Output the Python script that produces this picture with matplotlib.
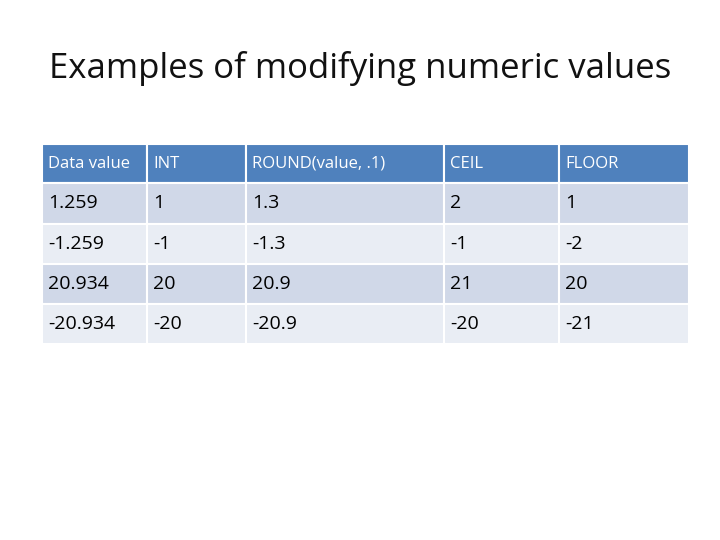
import matplotlib
matplotlib.use("Agg")
import matplotlib.pyplot as plt
from matplotlib.patches import Rectangle

title = "Examples of modifying numeric values"
headers = ["Data value", "INT", "ROUND(value, .1)", "CEIL", "FLOOR"]
data_values = ["1.259", "-1.259", "20.934", "-20.934"]
int_values = ["1", "-1", "20", "-20"]
round_values = ["1.3", "-1.3", "20.9", "-20.9"]
ceil_values = ["2", "-1", "21", "-20"]
floor_values = ["1", "-2", "20", "-21"]

col_edges = [42, 147, 246, 444, 559, 689]
row_edges = [144, 183, 224, 264, 304, 344]

fig = plt.figure(figsize=(7.2, 5.4), dpi=100)
ax = fig.add_axes([0, 0, 1, 1])
ax.set_xlim(0, 720)
ax.set_ylim(540, 0)
ax.axis("off")

ax.text(360, 68, title, ha="center", va="center", fontsize=25, family="Open Sans", color="#111111")

rows = [headers] + [list(r) for r in zip(data_values, int_values, round_values, ceil_values, floor_values)]
for i, row in enumerate(rows):
    y0, y1 = row_edges[i], row_edges[i + 1]
    if i == 0:
        fc, tc, fs = "#4F81BD", "white", 12
    else:
        fc, tc, fs = ("#D0D8E8" if i % 2 == 1 else "#E9EDF4"), "black", 14
    for j, txt in enumerate(row):
        x0, x1 = col_edges[j], col_edges[j + 1]
        ax.add_patch(Rectangle((x0, y0), x1 - x0, y1 - y0, facecolor=fc, edgecolor="white", linewidth=1.5))
        ax.text(x0 + 6, (y0 + y1) / 2, txt, ha="left", va="center", fontsize=fs, family="Open Sans", color=tc)

fig.savefig("out.png", dpi=100)
